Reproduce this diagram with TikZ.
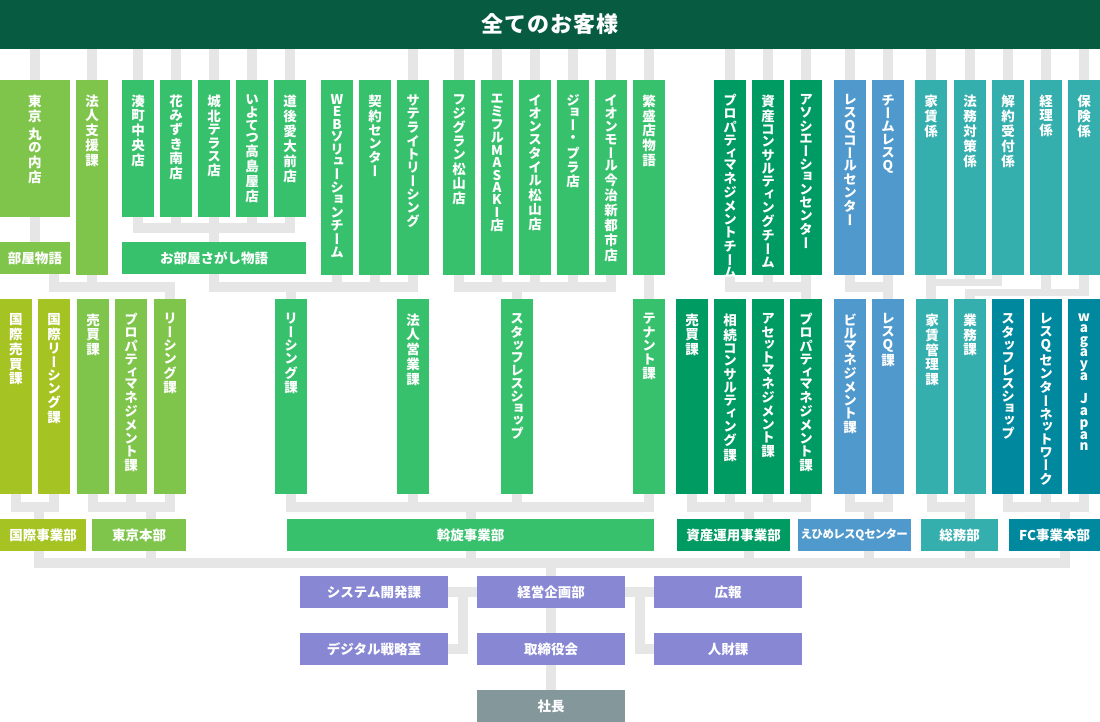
\documentclass[tikz,border=0pt]{standalone}
\usepackage{fontspec}
\newfontfamily\jp{Noto Sans CJK JP}
\newfontfamily\vjp[RawFeature=+vert]{Noto Sans CJK JP}
\XeTeXuseglyphmetrics=1
\usetikzlibrary{calc}
\pgfdeclarelayer{background}
\pgfsetlayers{background,main}
\definecolor{topc}{HTML}{075B41}
\definecolor{olive}{HTML}{A6C324}
\definecolor{lgreen}{HTML}{7FC54B}
\definecolor{cgreen}{HTML}{37C16C}
\definecolor{dgreen}{HTML}{009A63}
\definecolor{cblue}{HTML}{4F99CD}
\definecolor{cteal}{HTML}{35AEAE}
\definecolor{dteal}{HTML}{00889E}
\definecolor{purp}{HTML}{8887D3}
\definecolor{ceoc}{HTML}{84989C}
\definecolor{lineg}{HTML}{E6E6E6}
\makeatletter
\newcommand\vtxt[1]{\vbox{\vjp\bfseries\fontsize{13.5}{15}\selectfont\baselineskip=0pt\lineskip=2.2pt\lineskiplimit=0pt\vt@step#1\relax}}
\def\vt@step#1{\ifx\relax#1\else\vt@char{#1}\expandafter\vt@step\fi}
\def\vt@char#1{\ifx*#1\vskip3pt\else\ifx・#1\vskip2.5pt\hbox to 16pt{\hss#1\hss}\vskip2.5pt\else\hbox to 16pt{\hss#1\hss}\fi\fi}
\newcommand\vfix[1]{\vbox{\vjp\bfseries\fontsize{13.5}{15}\selectfont\baselineskip=11.8pt\lineskiplimit=-100pt\vf@step#1\relax}}
\def\vf@step#1{\ifx\relax#1\else\ifx*#1\hbox{}\else\hbox to 16pt{\hss#1\hss}\fi\expandafter\vf@step\fi}
\makeatother
\newcommand\vbx[7]{%
  \node[box, fill=#6, minimum width={(#4-#2)*1pt}, minimum height={(#5-#3)*1pt}] (#1) at (#2,#3) {};
  \node[vlab] (#1l) at ([yshift=-14.5pt]#1.north) {\vtxt{#7}};}
\newcommand\vbxf[7]{%
  \node[box, fill=#6, minimum width={(#4-#2)*1pt}, minimum height={(#5-#3)*1pt}] (#1) at (#2,#3) {};
  \node[vlab] (#1l) at ([yshift=-14.5pt]#1.north) {\vfix{#7}};}
\newcommand\hbx[8]{%
  \node[box, fill=#6, minimum width={(#4-#2)*1pt}, minimum height={(#5-#3)*1pt}, font=\jp\bfseries\fontsize{#7}{#7}\selectfont] (#1) at (#2,#3) {#8};}
\begin{document}
\begin{tikzpicture}[x=1pt,y=-1pt,
  box/.style={anchor=north west, inner sep=0pt, outer sep=0pt, text=white},
  vlab/.style={anchor=north, inner sep=0pt, outer sep=0pt, text=white},
  conn/.style={draw=lineg, line width=10pt, line cap=rect, line join=miter},
  conn2/.style={draw=lineg, line width=7pt, line cap=rect}]
\useasboundingbox (0,0) rectangle (1100,722);
\node[box, fill=topc, minimum width=1100pt, minimum height=49pt, font=\jp\bfseries\fontsize{22}{22}\selectfont] (top) at (0,0) {\addfontfeature{LetterSpace=4}全てのお客様};
% row 1
\vbx{t1}{0}{80}{70}{217}{lgreen}{東京*丸の内店}
\vbx{t2}{76}{80}{108}{275}{lgreen}{法人支援課}
\vbx{t3}{122}{80}{154}{217}{cgreen}{湊町中央店}
\vbx{t4}{160}{80}{192}{217}{cgreen}{花みずき南店}
\vbx{t5}{198}{80}{230}{217}{cgreen}{城北テラス店}
\vbx{t6}{236}{80}{268}{217}{cgreen}{いよてつ高島屋店}
\vbx{t7}{274}{80}{306}{217}{cgreen}{道後愛大前店}
\vbx{t8}{321}{80}{353}{275}{cgreen}{WEBソリューションチーム}
\vbx{t9}{359}{80}{391}{275}{cgreen}{契約センター}
\vbx{t10}{397}{80}{429}{275}{cgreen}{サテライトリーシング}
\vbx{t11}{443}{80}{475}{275}{cgreen}{フジグラン松山店}
\vbx{t12}{481}{80}{513}{275}{cgreen}{エミフルMASAKI店}
\vbx{t13}{519}{80}{551}{275}{cgreen}{イオンスタイル松山店}
\vbx{t14}{557}{80}{589}{275}{cgreen}{ジョー・プラ店}
\vbx{t15}{595}{80}{627}{275}{cgreen}{イオンモール今治新都市店}
\vbx{t16}{633}{80}{665}{275}{cgreen}{繁盛店物語}
\vbx{t17}{714}{80}{746}{275}{dgreen}{プロパティマネジメントチーム}
\vbx{t18}{752}{80}{784}{275}{dgreen}{資産コンサルティングチーム}
\vbx{t19}{790}{80}{822}{275}{dgreen}{アソシエーションセンター}
\vbx{t20}{834}{80}{866}{275}{cblue}{レスQコールセンター}
\vbx{t21}{872}{80}{904}{275}{cblue}{チームレスQ}
\vbx{t22}{915}{80}{947}{275}{cteal}{家賃係}
\vbx{t23}{954}{80}{986}{275}{cteal}{法務対策係}
\vbx{t24}{992}{80}{1024}{275}{cteal}{解約受付係}
\vbx{t25}{1030}{80}{1062}{275}{cteal}{経理係}
\vbx{t26}{1068}{80}{1100}{275}{cteal}{保険係}
\hbx{heya}{0}{242}{70}{274}{lgreen}{13.5}{部屋物語}
\hbx{oheya}{122}{242}{306}{274}{cgreen}{13.5}{お部屋さがし物語}
% row 2
\vbx{s1}{0}{299}{32}{494}{olive}{国際売買課}
\vbx{s2}{38}{299}{70}{494}{olive}{国際リーシング課}
\vbx{s3}{77}{299}{109}{494}{lgreen}{売買課}
\vbx{s4}{115}{299}{147}{494}{lgreen}{プロパティマネジメント課}
\vbx{s5}{154}{299}{186}{494}{lgreen}{リーシング課}
\vbx{s6}{275}{299}{307}{494}{cgreen}{リーシング課}
\vbx{s7}{397}{299}{429}{494}{cgreen}{法人営業課}
\vbx{s8}{501}{299}{533}{494}{cgreen}{スタッフレスショップ}
\vbx{s9}{633}{299}{665}{494}{cgreen}{テナント課}
\vbx{s10}{676}{299}{708}{494}{dgreen}{売買課}
\vbx{s11}{714}{299}{746}{494}{dgreen}{相続コンサルティング課}
\vbx{s12}{752}{299}{784}{494}{dgreen}{アセットマネジメント課}
\vbx{s13}{790}{299}{822}{494}{dgreen}{プロパティマネジメント課}
\vbx{s14}{834}{299}{866}{494}{cblue}{ビルマネジメント課}
\vbx{s15}{872}{299}{904}{494}{cblue}{レスQ課}
\vbx{s16}{916}{299}{948}{494}{cteal}{家賃管理課}
\vbx{s17}{954}{299}{986}{494}{cteal}{業務課}
\vbx{s18}{992}{299}{1024}{494}{dteal}{スタッフレスショップ}
\vbx{s19}{1030}{299}{1062}{494}{dteal}{レスQセンターネットワーク}
\vbxf{s20}{1068}{299}{1100}{494}{dteal}{wagaya*Japan}
% row 3
\hbx{d1}{0}{519}{86}{551}{olive}{13.5}{国際事業部}
\hbx{d2}{92}{519}{186}{551}{lgreen}{13.5}{東京本部}
\hbx{d3}{287}{519}{654}{551}{cgreen}{13.5}{斡旋事業部}
\hbx{d4}{677}{519}{790}{551}{dgreen}{13.5}{資産運用事業部}
\hbx{d5}{798}{519}{911}{551}{cblue}{11.5}{\addfontfeature{RawFeature=+palt}えひめレスQセンター}
\hbx{d6}{921}{519}{998}{551}{cteal}{13.5}{総務部}
\hbx{d7}{1009}{519}{1100}{551}{dteal}{13.5}{FC事業本部}
% management
\hbx{p1}{300}{576}{448}{608}{purp}{13.5}{システム開発課}
\hbx{p2}{477}{576}{625}{608}{purp}{13.5}{経営企画部}
\hbx{p3}{654}{576}{802}{608}{purp}{13.5}{広報}
\hbx{p4}{300}{633}{448}{665}{purp}{13.5}{デジタル戦略室}
\hbx{p5}{477}{633}{625}{665}{purp}{13.5}{取締役会}
\hbx{p6}{654}{633}{802}{665}{purp}{13.5}{人財課}
\hbx{ceo}{477}{690}{625}{722}{ceoc}{13.5}{社長}
\begin{pgfonlayer}{background}
\fill[white] (0,0) rectangle (1100,722);
% from top bar
\foreach \n in {t1,t2,t3,t4,t5,t6,t7,t10,t11,t12,t13,t14,t15,t16,t17,t18,t19,t20,t21,t22,t23,t24,t25,t26}
  \draw[conn] (\n.north) -- (\n.north |- top.south);
% inside row 1
\draw[conn] (t1.south) -- (heya.north);
\draw[conn] (t3.south) |- (t7.south |- 0,228) -- (t7.south);
\foreach \n in {t4,t5,t6} \draw[conn] (\n.south) -- (\n.south |- 0,228);
\draw[conn] (oheya.north) -- (oheya.north |- 0,228);
% row 1 to row 2
\draw[conn] ([xshift=19pt]heya.south) |- (s5.north |- 0,287) -- (s5.north);
\draw[conn] (t2.south) -- (t2.south |- 0,287);
\draw[conn] (oheya.south) |- (t10.south |- 0,287) -- (t10.south);
\foreach \n in {t8,t9} \draw[conn] (\n.south) -- (\n.south |- 0,287);
\draw[conn] (s6.north) -- (s6.north |- 0,287);
\draw[conn] (t11.south) |- (t15.south |- 0,287) -- (t15.south);
\foreach \n in {t12,t13,t14} \draw[conn] (\n.south) -- (\n.south |- 0,287);
\draw[conn] (s8.north) -- (s8.north |- 0,287);
\draw[conn] (t16.south) -- (s9.north);
\draw[conn] (t17.south) |- (t19.south |- 0,287);
\draw[conn] (t18.south) -- (t18.south |- 0,287);
\draw[conn] (t19.south) -- (s13.north);
\draw[conn] (t20.south) |- (t21.south |- 0,287);
\draw[conn] (t21.south) -- (s15.north);
\draw[conn] (t22.south) -- (t22.south |- s16.north);
\draw[conn2] (t22.south |- 0,282.5) -- (997,282.5);
\draw[conn] (t23.south) -- (t23.south |- 0,281);
\draw[conn] (997,0 |- t24.south) -- (997,281);
\draw[conn2] (s17.north |- 0,292.5) -- (t26.south |- 0,292.5);
\draw[conn] (s17.north) -- (s17.north |- 0,294);
\draw[conn] (t25.south) -- (t25.south |- 0,291);
\draw[conn] (t26.south) -- (t26.south |- 0,291);
% row 2 to row 3
\draw[conn] (s1.south) |- (s2.south |- 0,507) -- (s2.south);
\draw[conn] (39,0 |- d1.north) -- (39,507);
\draw[conn] (s3.south) |- (s5.south |- 0,507) -- (s5.south);
\draw[conn] (s4.south) -- (s4.south |- 0,507);
\draw[conn] (151,0 |- d2.north) -- (151,507);
\draw[conn] (s6.south) |- (s9.south |- 0,507) -- (s9.south);
\foreach \n in {s7,s8} \draw[conn] (\n.south) -- (\n.south |- 0,507);
\draw[conn] (d3.north) -- (d3.north |- 0,507);
\draw[conn] (s10.south) |- (s13.south |- 0,507) -- (s13.south);
\foreach \n in {s11,s12} \draw[conn] (\n.south) -- (\n.south |- 0,507);
\draw[conn] (749,0 |- d4.north) -- (749,507);
\draw[conn] (s14.south) |- (s15.south |- 0,507) -- (s15.south);
\draw[conn] (869,0 |- d5.north) -- (869,507);
\draw[conn] (s16.south) |- (s17.south |- 0,507) -- (s17.south);
\draw[conn] (s17.south |- d6.north) -- (s17.south |- 0,507);
\draw[conn] (s18.south) |- (s20.south |- 0,507) -- (s20.south);
\draw[conn] (s19.south) -- (s19.south |- 0,507);
\draw[conn] (1065,0 |- d7.north) -- (1065,507);
% row 3 to management
\draw[conn] (39,0 |- d1.south) |- (1065,563) -- (1065,0 |- d7.south);
\draw[conn] (151,0 |- d2.south) -- (151,563);
\draw[conn] (d3.south) -- (d3.south |- 0,563);
\draw[conn] (749,0 |- d4.south) -- (749,563);
\draw[conn] (869,0 |- d5.south) -- (869,563);
\draw[conn] (970,0 |- d6.south) -- (970,563);
\draw[conn] (p2.north) -- (p2.north |- 0,563);
\draw[conn] (p2.south) -- (p5.north);
\draw[conn] (p5.south) -- (ceo.north);
\draw[conn] (p1.east) -- (p2.west);
\draw[conn] (p2.east) -- (p3.west);
\draw[conn] (p4.east) -| (463,0 |- p1.east);
\draw[conn] (p6.west) -| (640,0 |- p3.west);
\end{pgfonlayer}
\end{tikzpicture}
\end{document}
